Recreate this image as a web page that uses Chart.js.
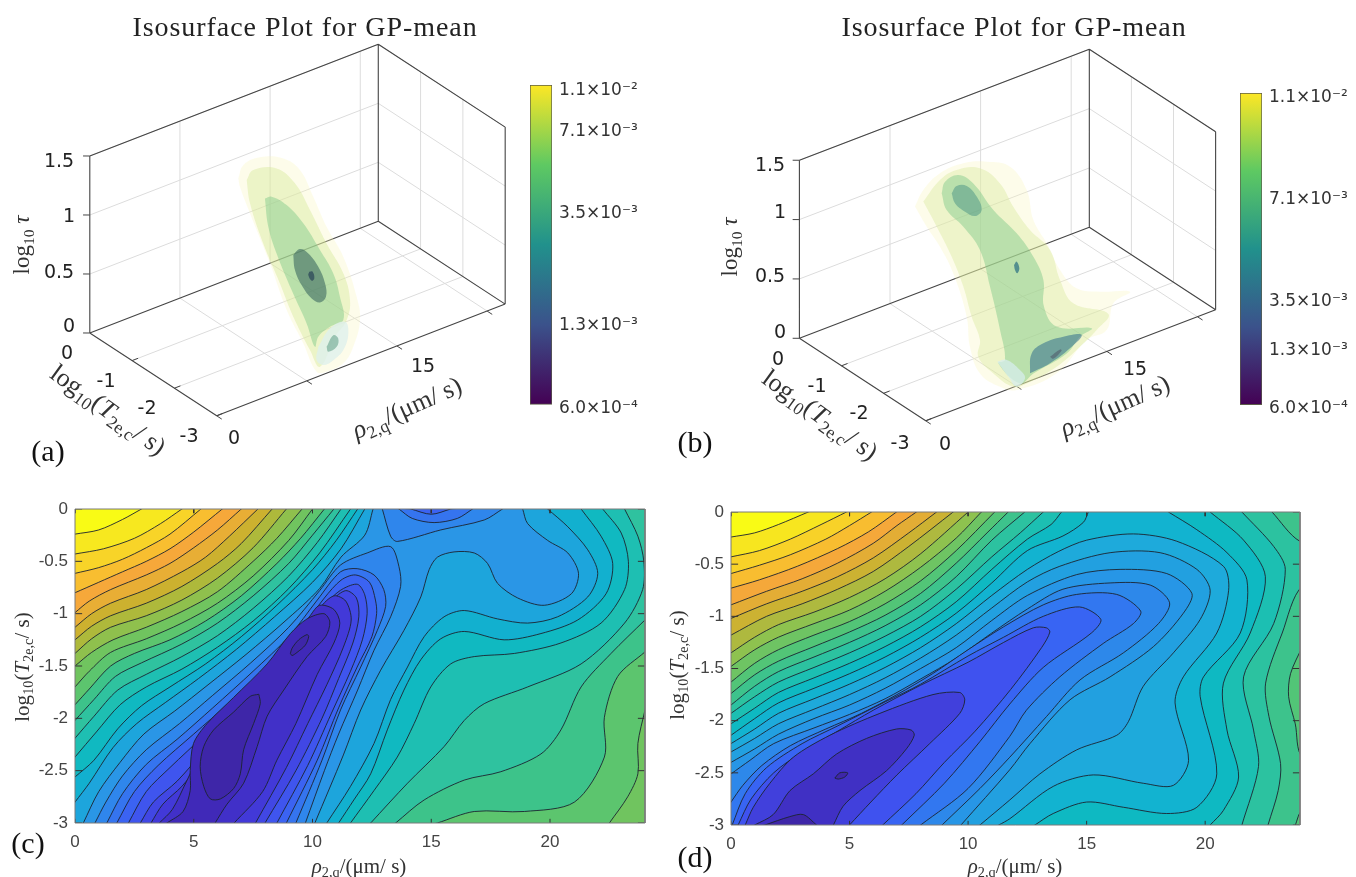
<!DOCTYPE html>
<html>
<head>
<meta charset="utf-8">
<title>GP-mean isosurfaces and contours</title>
<script src="https://cdn.jsdelivr.net/npm/chart.js@4"></script>
<style>
html, body { margin: 0; background: #fff; width: 1356px; height: 877px; overflow: hidden; }
canvas { position: absolute; }
.t { position: absolute; white-space: nowrap; transform: translate(-50%, -50%); color: #222; }
.t sub { font-size: 68%; vertical-align: -0.3em; line-height: 0; }
.title { font: 28px "Liberation Serif"; letter-spacing: .95px; color: #222; }
.tick3 { font: 19px "DejaVu Sans"; color: #222; }
.mark { font: 30px "Liberation Serif"; color: #111; }
.math { font: 26px "Liberation Serif"; color: #333; }
.mathTau { font: 23px "Liberation Serif"; color: #333; }
.math2 { font: 21px "Liberation Serif"; color: #333; }
</style>
</head>
<body>
<script>
// ---- panel (c) contour lines: [rho, log10 T]
const c25 = [[0,-.24],[1,-.2],[2,-.1],[2.8,0]];
const c24 = [[0,-.43],[1.2,-.38],[2.5,-.28],[3.6,-.14],[4.5,0]];
const c23 = [[0,-.615],[1,-.56],[2,-.48],[3,-.37],[4,-.24],[5.3,0]];
const c22 = [[0,-.8],[1,-.7],[2,-.6],[3,-.5],[4,-.38],[5,-.22],[6.2,0]];
const c21 = [[0,-.99],[.6,-.88],[1.5,-.77],[3,-.63],[4,-.52],[5,-.37],[6,-.2],[7,0]];
const c20 = [[0,-1.13],[.7,-1],[1.5,-.9],[3,-.77],[4.5,-.6],[5.5,-.46],[6.5,-.26],[7.7,0]];
const c19 = [[0,-1.25],[.7,-1.12],[1.5,-1.02],[3,-.9],[4.5,-.74],[6,-.52],[7,-.33],[8.3,0]];
const c18 = [[0,-1.38],[.7,-1.24],[1.5,-1.13],[3,-1.02],[4.5,-.87],[6,-.66],[7.5,-.37],[8.9,0]];
const c17 = [[0,-1.5],[.7,-1.37],[1.6,-1.25],[3,-1.13],[4.5,-.98],[6,-.79],[7.5,-.5],[8.5,-.28],[9.56,0]];
const cH = [[0,-1.7],[.6,-1.55],[1.5,-1.37],[3,-1.24],[4.5,-1.09],[6,-.9],[7.5,-.64],[9,-.3],[10,0]];
const cG = [[0,-1.87],[.6,-1.72],[1.5,-1.5],[2.5,-1.38],[4,-1.25],[5.5,-1.07],[7,-.83],[8.5,-.52],[9.5,-.28],[10.5,0]];
const cF = [[0,-2.02],[.8,-1.82],[1.7,-1.6],[2.8,-1.47],[4.5,-1.29],[6,-1.09],[7.5,-.83],[9,-.52],[10,-.25],[10.9,0]];
const cE = [[0,-2.19],[.8,-1.98],[1.8,-1.73],[3,-1.58],[4.5,-1.41],[6,-1.21],[7.5,-.95],[9,-.64],[10.2,-.32],[11.2,0]];
const cD = [[0,-2.37],[.9,-2.13],[1.9,-1.87],[3,-1.7],[4.5,-1.53],[6,-1.32],[7.5,-1.07],[9,-.76],[10.3,-.42],[11.6,0]];
const cC = [[0,-2.56],[.8,-2.4],[1.8,-2.1],[2.8,-1.88],[4,-1.7],[5.5,-1.48],[7,-1.22],[8.5,-.92],[10,-.58],[11,-.3],[11.9,0]];
const cB = [[0,-2.8],[.6,-2.62],[1.6,-2.28],[2.6,-2.05],[3.8,-1.85],[5.2,-1.62],[6.8,-1.34],[8.4,-1.03],[10,-.7],[11.2,-.38],[12.2,0]];
const cA = [[.35,-3],[1,-2.7],[1.9,-2.42],[2.9,-2.15],[4.2,-1.93],[5.6,-1.68],[7.2,-1.39],[8.8,-1.08],[10.3,-.76],[11.2,-.46],[12.2,-.25],[12.55,0]];
const cHr = [[24,-1.92],[23.7,-2.24],[23.7,-2.53],[23.27,-2.75],[22.5,-3]];
const cGr = [[24,-1.365],[22.85,-1.6],[22.29,-1.99],[22.29,-2.37],[21.03,-2.8],[18.92,-2.89],[16.81,-2.89],[15.26,-3]];
const cFr = [[24,-1.06],[22.57,-1.38],[21.31,-1.7],[20.46,-2.11],[19.62,-2.34],[17.93,-2.51],[16.39,-2.59],[14.7,-2.78],[13.5,-3]];
const cEr = [[23.14,0],[23.7,-.26],[23.95,-.5],[23.9,-.77],[23.14,-1.09],[21.31,-1.48],[19.06,-1.7],[17.23,-1.86],[16.39,-2.02],[15.54,-2.27],[14,-2.62],[12.45,-3]];
const cDr = [[22.22,0],[23,-.23],[23.3,-.5],[23.14,-.77],[22.15,-1.09],[20.46,-1.28],[18.5,-1.38],[16.81,-1.41],[15.82,-1.48],[14.98,-1.7],[14.28,-2.05],[13.57,-2.37],[12.59,-2.69],[11.6,-3]];
const cCr = [[21.31,0],[22.15,-.26],[22.64,-.52],[22.36,-.81],[21.17,-1.06],[19.62,-1.19],[18.07,-1.25],[16.39,-1.17],[15.4,-1.24],[14.56,-1.44],[13.85,-1.73],[13.15,-2.11],[12.45,-2.53],[11.74,-2.78],[11.1,-3]];
const cBr = [[19.9,0],[20.75,-.17],[21.59,-.39],[22.01,-.615],[21.59,-.84],[20.32,-1.03],[19.06,-1.09],[17.79,-1.05],[16.39,-.97],[15.54,-1.03],[14.7,-1.22],[14,-1.51],[13.29,-1.82],[12.59,-2.24],[11.6,-2.65],[10.6,-3]];
const cAr = [[18.85,0],[19.06,-.14],[19.9,-.3],[20.75,-.42],[21.2,-.615],[20.9,-.81],[19.76,-.92],[18.64,-.85],[17.79,-.71],[17.37,-.52],[16.81,-.42],[15.96,-.41],[15.26,-.46],[14.91,-.58],[14.56,-.84],[13.85,-1.16],[12.87,-1.54],[12.03,-1.92],[11.3,-2.35],[10.1,-3]];
const cT8 = [[.84,-3],[1.3,-2.8],[2,-2.55],[3,-2.3],[4.4,-2.05],[5.8,-1.78],[7.4,-1.47],[9,-1.13],[10.3,-.78],[11.18,-.535],[12.3,-.42],[13.29,-.36],[13.64,-.55],[13.71,-.74],[13.29,-1.03],[12.59,-1.35],[11.9,-1.73],[11.1,-2.15],[10.5,-2.5],[9.7,-3]];
const cT7 = [[1.34,-3],[2,-2.72],[3,-2.44],[4.3,-2.2],[5.8,-1.9],[7.5,-1.55],[9,-1.22],[10.2,-.87],[11.18,-.6],[11.88,-.57],[12.59,-.63],[13,-.77],[13.08,-.93],[12.73,-1.16],[12.03,-1.51],[11.18,-1.92],[10.4,-2.4],[9.3,-3]];
const cT6 = [[1.76,-3],[2.5,-2.7],[3.5,-2.45],[5,-2.15],[6.5,-1.85],[8,-1.52],[9.5,-1.15],[10.5,-.85],[11.2,-.68],[11.8,-.63],[12.4,-.7],[12.65,-.87],[12.7,-1],[12.5,-1.22],[11.9,-1.5],[11.1,-1.9],[10.2,-2.4],[8.9,-3]];
const cT5 = [[2.25,-3],[3,-2.7],[4,-2.47],[5.5,-2.15],[7,-1.82],[8.5,-1.47],[9.9,-1.1],[10.8,-.85],[11.3,-.76],[11.9,-.72],[12.2,-.82],[12.3,-1],[12.1,-1.25],[11.6,-1.55],[10.8,-1.95],[9.8,-2.45],[8.5,-3]];
const cT4 = [[2.75,-3],[3.3,-2.8],[4.3,-2.6],[5.6,-2.27],[7.2,-1.9],[8.7,-1.53],[10,-1.15],[10.8,-.88],[11.4,-.78],[11.85,-.85],[11.95,-1.03],[11.7,-1.28],[11.1,-1.62],[10.4,-2],[9.3,-2.5],[8,-3]];
const cT3 = [[3.2,-3],[3.7,-2.82],[4.5,-2.65],[5.6,-2.35],[7,-2.02],[8.4,-1.63],[9.5,-1.27],[10.3,-.95],[10.9,-.83],[11.4,-.88],[11.63,-1.06],[11.3,-1.32],[10.6,-1.68],[9.8,-2.05],[8.9,-2.47],[7.6,-3]];
const cT2 = [[3.55,-3],[4.1,-2.87],[4.7,-2.6],[5.3,-2.33],[6.5,-2],[7.9,-1.63],[9.1,-1.27],[9.9,-1.02],[10.3,-.92],[10.9,-.96],[11.15,-1.09],[10.9,-1.28],[10.2,-1.58],[9.3,-2.05],[8.5,-2.4],[7.9,-2.7],[6.7,-3]];
const cT1 = [[3.87,-3],[4.55,-2.89],[4.85,-2.69],[4.85,-2.5],[4.99,-2.24],[5.56,-2.05],[6.68,-1.8],[8.09,-1.48],[9.07,-1.19],[9.77,-1.05],[10.48,-1],[10.73,-1.08],[10.55,-1.22],[9.77,-1.41],[8.79,-1.73],[8.09,-1.98],[7.67,-2.27],[7.1,-2.62],[6.4,-2.82],[5.9,-3]];
const cCap8 = [[12.94,0],[13.29,-.26],[13.57,-.31],[15.4,-.2],[17.23,-.105],[18,0]];
const cCap7 = [[13.64,0],[14.2,-.09],[15.12,-.13],[16.1,-.09],[16.74,0]];
const cCap6 = [[14.14,0],[15,-.05],[15.82,0]];
const cBlob = [[7.74,-1.77],[7.8,-1.86],[7.52,-2.05],[7.1,-2.3],[6.96,-2.53],[6.68,-2.67],[6.12,-2.77],[5.7,-2.77],[5.42,-2.65],[5.27,-2.46],[5.42,-2.27],[5.84,-2.11],[6.68,-1.94],[7.38,-1.79],[7.74,-1.77]];
const cDot = [[9.07,-1.38],[9.14,-1.33],[9.42,-1.25],[9.77,-1.2],[9.84,-1.22],[9.7,-1.3],[9.35,-1.37],[9.14,-1.4],[9.07,-1.38]];

// ---- panel (d) contour lines
const d24 = [[0,-.24],[1,-.2],[2,-.12],[3.26,0]];
const d23 = [[0,-.43],[1.2,-.37],[2.5,-.26],[3.8,-.12],[4.87,0]];
const d22 = [[0,-.59],[1.2,-.51],[2.5,-.41],[4,-.26],[5,-.13],[5.93,0]];
const d21 = [[0,-.73],[1.2,-.65],[2.8,-.52],[4.5,-.35],[5.8,-.19],[6.98,0]];
const d20 = [[0,-.89],[1.5,-.76],[3,-.64],[4.5,-.49],[6,-.3],[7,-.13],[7.82,0]];
const d19 = [[0,-1.02],[1.5,-.88],[3,-.76],[4.5,-.62],[6,-.44],[7.5,-.2],[8.67,0]];
const d18 = [[0,-1.18],[1.5,-1],[3,-.88],[4.5,-.74],[6,-.57],[7.5,-.33],[9.37,0]];
const d17 = [[0,-1.35],[1,-1.2],[2,-1.08],[3.5,-.96],[5,-.82],[6.5,-.64],[8,-.4],[10,0]];
const d16 = [[0,-1.48],[1,-1.32],[2,-1.2],[3.5,-1.07],[5,-.94],[6.5,-.76],[8,-.53],[9.5,-.25],[10.56,0]];
const d15 = [[0,-1.63],[1,-1.45],[2,-1.32],[3.5,-1.18],[5,-1.05],[6.5,-.88],[8,-.66],[9.5,-.37],[11.12,0]];
const d14 = [[0,-1.74],[1,-1.56],[2,-1.43],[3.5,-1.29],[5,-1.15],[6.5,-.99],[8,-.78],[9.5,-.49],[10.8,-.2],[11.69,0]];
const d13 = [[0,-1.85],[1,-1.67],[2,-1.53],[3.5,-1.39],[5,-1.25],[6.5,-1.09],[8,-.89],[9.5,-.62],[11,-.27],[12.39,0]];
const d12 = [[0,-1.93],[1,-1.77],[2,-1.63],[3.5,-1.49],[5,-1.35],[6.5,-1.19],[8,-1],[9.5,-.74],[11,-.43],[12.2,-.2],[13.17,0]];
const d11 = [[0,-2.03],[1,-1.88],[2,-1.73],[3.5,-1.59],[5,-1.45],[6.5,-1.29],[8,-1.1],[9.5,-.86],[11,-.55],[12.5,-.26],[13.5,-.12],[13.94,0]];
const d10 = [[0,-2.14],[1,-1.98],[2,-1.83],[3.5,-1.69],[5,-1.55],[6.5,-1.39],[8,-1.2],[9.5,-.97],[11,-.68],[12.5,-.37],[14,-.23],[14.86,-.1],[15.07,0]];
const d14r = [[24.1,-1.29],[23.6,-1.55],[23.52,-1.77],[23.8,-2.03],[24.1,-2.35],[26,-2.5],[26,-2.75],[24.1,-2.86],[23.8,-3]];
const d13r = [[22.82,0],[23.99,-.28],[26,-.4],[26,-.6],[24.1,-.71],[23.25,-1.16],[22.55,-1.64],[22.69,-1.96],[23.18,-2.41],[23.08,-2.67],[22.65,-3]];
const d12r = [[21.55,0],[22.89,-.33],[23.38,-.55],[22.89,-1.07],[21.62,-1.58],[22.04,-2.09],[22.25,-2.44],[21.55,-3]];
const d11r = [[20.21,0],[21.62,-.27],[22.54,-.62],[21.9,-1.16],[20.77,-1.64],[20.92,-2.09],[21.41,-2.54],[20.77,-2.86],[20.21,-3]];
const d10r = [[18.45,0],[19.65,-.17],[20.92,-.39],[21.76,-.65],[21.48,-1.16],[19.93,-1.58],[19.79,-1.77],[20.49,-2.51],[19.65,-2.83],[18.38,-2.89],[16.55,-2.83],[15,-2.78],[13.59,-2.89],[12.82,-3]];
const d9 = [[0,-2.22],[1,-2.08],[2,-1.93],[3.5,-1.79],[5,-1.65],[6.5,-1.49],[8,-1.3],[9.5,-1.07],[11,-.8],[12.5,-.55],[13.8,-.38],[15,-.27],[16.97,-.21],[18.8,-.28],[20.77,-.52],[20.99,-.75],[20.49,-1.16],[19.08,-1.58],[18.73,-1.83],[19.3,-2.38],[18.66,-2.62],[17.39,-2.6],[15.28,-2.52],[13.59,-2.63],[11.76,-2.94],[11.3,-3]];
const d8 = [[0,-2.3],[1,-2.17],[2,-2.03],[3.5,-1.89],[5,-1.75],[6.5,-1.59],[8,-1.4],[9.5,-1.18],[11,-.92],[12.5,-.67],[13.87,-.52],[15.99,-.39],[18.1,-.39],[19.65,-.55],[20.21,-.75],[19.79,-1.03],[18.66,-1.35],[17.39,-1.67],[16.76,-2.01],[16.27,-2.14],[14.58,-2.28],[13.03,-2.51],[11.76,-2.76],[10.5,-3]];
const d7 = [[0,-2.4],[1,-2.27],[2,-2.13],[3.5,-1.98],[5,-1.85],[6.5,-1.69],[8,-1.5],[9.5,-1.3],[11,-1.04],[12.5,-.8],[14.58,-.6],[16.41,-.55],[18.38,-.59],[19.44,-.78],[19.08,-.97],[17.82,-1.29],[15.99,-1.58],[14.3,-1.8],[12.61,-2.22],[11.76,-2.47],[9.7,-3]];
const d6 = [[0,-2.51],[.8,-2.38],[1.8,-2.22],[3.5,-2.07],[5,-1.94],[6.5,-1.79],[8,-1.6],[9.5,-1.4],[11,-1.16],[12.5,-.93],[14,-.74],[15.99,-.68],[17.68,-.7],[18.5,-.87],[18.03,-1.07],[16.55,-1.35],[14.72,-1.61],[13.31,-1.96],[11.76,-2.35],[10.5,-2.65],[8.9,-3]];
const d5 = [[0,-2.78],[.5,-2.62],[1.3,-2.43],[2.5,-2.24],[4,-2.08],[5.5,-1.93],[7,-1.75],[8.5,-1.55],[10,-1.32],[11.5,-1.1],[13.17,-.89],[14.58,-.79],[16.27,-.79],[17.28,-.95],[16.97,-1.07],[15.7,-1.26],[13.87,-1.58],[12.46,-1.9],[11.76,-2.15],[10,-2.65],[8,-3]];
const d4 = [[.05,-3],[.6,-2.7],[1.5,-2.45],[3,-2.22],[4.5,-2.05],[6.5,-1.82],[8,-1.65],[10,-1.38],[11.5,-1.2],[13.17,-1],[14.7,-.91],[15.6,-1.03],[15.2,-1.16],[13.17,-1.49],[11.76,-1.84],[10.5,-2.2],[9,-2.6],[7.2,-3]];
const d3 = [[.3,-3],[.85,-2.75],[1.8,-2.5],[3,-2.3],[4.5,-2.1],[6,-1.9],[8,-1.66],[10,-1.44],[11.5,-1.25],[12.75,-1.11],[13.3,-1.11],[13.45,-1.15],[13.1,-1.3],[11.8,-1.7],[10.3,-2.1],[9,-2.4],[7.8,-2.7],[6.4,-3]];
const d2 = [[.6,-3],[.94,-2.83],[1.64,-2.6],[2.63,-2.35],[4.17,-2.14],[6.28,-1.93],[8.52,-1.75],[9.65,-1.73],[9.86,-1.8],[9.65,-1.93],[8.38,-2.22],[7,-2.52],[5.9,-2.78],[5,-3]];
const d1 = [[1,-3],[1.78,-2.9],[2.49,-2.67],[3.47,-2.51],[4.45,-2.32],[5.72,-2.17],[6.98,-2.08],[7.6,-2.09],[7.73,-2.14],[7.4,-2.27],[6.56,-2.48],[5.44,-2.67],[4.73,-2.82],[4.32,-3]];
const dLow = [[1.43,-3],[2.48,-2.92],[3.05,-2.9],[3.61,-3]];
const dDot = [[4.38,-2.55],[4.59,-2.5],[4.92,-2.5],[4.8,-2.54],[4.52,-2.56],[4.38,-2.55]];

// ---- panel (a) isosurface outlines on the slice log10 T = -1.5: [rho, log10 tau]
const aSurf1 = [[7.08,1.382],[7.49,1.478],[8.88,1.489],[10.82,1.403],[12.2,1.251],[13.31,.981],[14.42,.682],[15.81,.374],[16.92,-.009],[17.2,-.218],[16.64,-.422],[15.81,-.53],[14.42,-.547],[13.59,-.514],[12.48,-.229],[11.1,.107],[9.71,.558],[8.05,1.047],[7.21,1.305],[7.08,1.382]];
const aSurf2 = [[7.77,1.341],[8.32,1.404],[10.26,1.341],[11.79,1.154],[13.04,.879],[14.42,.541],[15.81,.233],[16.37,-.015],[16.09,-.174],[15.12,-.277],[13.87,-.482],[13.04,-.308],[11.65,.03],[10.54,.355],[9.15,.749],[8.05,1.132],[7.77,1.341]];
const aSurf3 = [[9.29,1.124],[9.85,1.118],[11.1,.997],[12.48,.788],[13.87,.507],[14.98,.265],[15.53,.046],[15.81,-.163],[14.7,-.176],[13.73,-.222],[13.45,-.297],[12.76,-.071],[11.51,.261],[10.26,.62],[9.57,.874],[9.29,1.124]];
const aSurf4 = [[11.65,.552],[12.2,.581],[12.9,.516],[13.73,.371],[14.29,.208],[14.37,.091],[13.87,.063],[13.18,.124],[12.34,.27],[11.79,.419],[11.65,.552]];
const aSurf5 = [[12.98,.358],[13.26,.347],[13.4,.285],[13.18,.274],[12.9,.333],[12.98,.358]];
const aSurf6 = [[13.73,-.307],[14.7,-.19],[15.95,-.183],[16.23,-.293],[15.81,-.417],[14.98,-.47],[14.15,-.479],[13.59,-.415],[13.73,-.307]];
const aSurf7 = [[14.42,-.335],[14.98,-.258],[15.39,-.302],[15.26,-.368],[14.56,-.382],[14.42,-.335]];

// ---- panel (b) isosurface outlines, same slice
const bSurf1 = [[4.34,1.288],[5.03,1.401],[6.41,1.488],[8.34,1.497],[10.27,1.435],[12.21,1.318],[13.59,1.067],[14.14,.793],[15.24,.554],[16.35,.286],[17.72,.078],[19.66,-.026],[22.14,-.123],[20.76,-.167],[20.21,-.371],[18.55,-.39],[16.07,-.574],[12.76,-.585],[11.38,-.504],[9.72,-.327],[8.89,-.07],[8.62,.194],[7.51,.602],[6.41,.87],[5.31,1.081],[4.34,1.288]];
const bSurf2 = [[5.03,1.303],[6.41,1.431],[7.79,1.462],[9.72,1.401],[11.38,1.209],[12.48,.97],[13.86,.72],[15.52,.487],[16.35,.202],[17.45,-.038],[20.35,-.241],[19.38,-.338],[18,-.425],[16.07,-.518],[13.59,-.562],[12.48,-.547],[10.83,-.37],[9.58,-.181],[9.72,-.046],[9.03,.178],[8.34,.458],[7.38,.747],[6.14,1.049],[5.03,1.303]];
const bSurf3 = [[6.55,1.314],[6.83,1.401],[7.93,1.415],[9.17,1.295],[10.83,1.007],[12.76,.735],[14.14,.484],[14.97,.256],[15.02,.029],[16.07,-.18],[18.97,-.308],[18,-.341],[16.9,-.438],[14.14,-.499],[13.03,-.54],[11.24,-.301],[11.79,-.295],[11.38,-.027],[10.55,.372],[9.72,.713],[8.34,.963],[6.96,1.157],[6.55,1.314]];
const bSurf4 = [[7.38,1.281],[7.79,1.327],[8.62,1.295],[9.45,1.173],[9.86,1.045],[9.31,1.015],[8.48,1.084],[7.65,1.187],[7.38,1.281]];
const bSurf5 = [[12.54,.476],[12.76,.496],[12.98,.431],[12.81,.396],[12.62,.431],[12.54,.476]];
const bSurf6 = [[13.86,-.488],[14,-.325],[14.97,-.278],[16.62,-.287],[18.14,-.332],[17.17,-.406],[15.52,-.468],[13.86,-.488]];
const bSurf7 = [[15.52,-.412],[16.35,-.383],[16.48,-.399],[15.79,-.44],[15.52,-.412]];
const bSurf8 = [[11.16,-.284],[11.93,-.3],[13.03,-.428],[13.45,-.514],[12.76,-.557],[12.07,-.446],[11.16,-.284]];

// ---- ticks
const rhoTicks2d = [0, 5, 10, 15, 20];
const logTTicks2d = [0, -.5, -1, -1.5, -2, -2.5, -3];
const rhoTicks3d = [0, 7.5, 15, 22.5];
const logTTicks3d = [0, -1, -2, -3];
const tauTicks3d = [0, .5, 1, 1.5];
const barLabels = ['6.0×10⁻⁴', '1.3×10⁻³', '3.5×10⁻³', '7.1×10⁻³', '1.1×10⁻²'];
const barPosA = [-.0125, .248, .599, .853, .984];
const barPosB = [-.013, .173, .33, .657, .986];

// ---- band colours, lowest level first
const cBands = ['#3e26a8','#4029b8','#4130c8','#4239d8','#4147e4','#3f55ee','#3b63f2','#3574ef','#2f86ec','#2a96e6','#1da5dc','#12b0cf','#10b9c1','#1ebfb2','#2fc29f','#3dc38a','#5cc56e','#70c45f','#8fc04d','#aeb93b','#ccb12f','#e8ae35','#f6a83a','#f8be30','#f8d428','#f7e81f','#f9fb15'];
const dBands = ['#3e26a8','#4030c4','#4140dc','#3f52ef','#3864f3','#3277f0','#2d88ea','#2796e6','#22a0e0','#1eaadb','#12b3d0','#0eb9c2','#1cbfb2','#2cc2a0','#3dc38c','#52c577','#6ec463','#8ec24f','#aeb93f','#ccb232','#e3ad35','#f5a83a','#f8bd30','#f8d228','#f7e61f','#f9fb15'];
const aFills = ['rgba(250,245,185,.3)','rgba(212,232,150,.42)','rgba(125,200,135,.45)','rgba(50,95,90,.55)','rgba(40,65,85,.7)','rgba(222,240,236,.8)','rgba(130,180,160,.75)'];
const bFills = ['rgba(250,245,185,.3)','rgba(212,232,150,.38)','rgba(125,200,135,.45)','rgba(50,130,125,.42)','rgba(40,110,130,.7)','rgba(50,110,140,.55)','rgba(90,110,120,.8)','rgba(215,238,236,.75)'];

const pastEnd = (from, to) => [to[0] + (to[0] - from[0]) * .5, to[1] + (to[1] - from[1]) * .5];

// closes a contour round the outside of the frame so it can be filled
function region(line, right) {
  const a = line[0], z = line[line.length - 1];
  const pts = [a[1] === -3 ? [a[0], -6] : [-4, a[1]], pastEnd(line[1], a), ...line];
  const out = pastEnd(line[line.length - 2], z);
  pts.push(out);
  if (z[1] === 0) {
    pts.push([out[0], 1]);
    if (right) {
      const r = right[0], e = right[right.length - 1];
      if (r[1] === 0) pts.push([r[0], 1]); else pts.push([30, 1], [30, r[1]]);
      pts.push(pastEnd(right[1], r), ...right, pastEnd(right[right.length - 2], e), [e[0], -6]);
    } else {
      pts.push([30, 1], [30, -6]);
    }
  } else {
    pts.push([out[0], -6]);
  }
  if (a[1] !== -3) pts.push([-4, -6]);
  return pts;
}

function cap(line) {
  const a = line[0], z = line[line.length - 1];
  return [[a[0], 1], pastEnd(line[1], a), ...line, pastEnd(line[line.length - 2], z), [z[0], 1]];
}

const everything = [[-5, 6], [30, 6], [30, -9], [-5, -9]];

const cShapes = [
  [26, everything], [25, region(c25)], [24, region(c24)], [23, region(c23)], [22, region(c22)],
  [21, region(c21)], [20, region(c20)], [19, region(c19)], [18, region(c18)], [17, region(c17)],
  [16, region(cH, cHr)], [15, region(cG, cGr)], [14, region(cF, cFr)], [13, region(cE, cEr)],
  [12, region(cD, cDr)], [11, region(cC, cCr)], [10, region(cB, cBr)], [9, region(cA, cAr)],
  [8, region(cT8)], [8, cap(cCap8)], [7, region(cT7)], [7, cap(cCap7)], [6, region(cT6)], [6, cap(cCap6)],
  [5, region(cT5)], [4, region(cT4)], [3, region(cT3)], [2, region(cT2)], [1, region(cT1)],
  [0, cBlob], [0, cDot]
];

const dShapes = [
  [25, everything], [24, region(d24)], [23, region(d23)], [22, region(d22)], [21, region(d21)],
  [20, region(d20)], [19, region(d19)], [18, region(d18)], [17, region(d17)], [16, region(d16)],
  [15, region(d15)], [14, region(d14, d14r)], [13, region(d13, d13r)], [12, region(d12, d12r)],
  [11, region(d11, d11r)], [10, region(d10, d10r)], [9, region(d9)], [8, region(d8)], [7, region(d7)],
  [6, region(d6)], [5, region(d5)], [4, region(d4)], [3, region(d3)], [2, region(d2)], [1, region(d1)],
  [0, region(dLow)], [0, dDot]
];

function place(w, h, left, top) {
  const cv = document.createElement('canvas');
  cv.width = w; cv.height = h;
  cv.style.left = left + 'px'; cv.style.top = top + 'px';
  cv.style.width = w + 'px'; cv.style.height = h + 'px';
  document.body.appendChild(cv);
  return cv.getContext('2d');
}

const xy = p => ({ x: p[0], y: p[1] });
const gap = { x: NaN, y: NaN };

function contourChart(box, shapes, bands) {
  const datasets = shapes.map(([band, pts]) => ({
    data: pts.map(xy),
    showLine: true, fill: 'shape', tension: .3, pointRadius: 0,
    backgroundColor: bands[band], borderColor: '#1c2430', borderWidth: .9
  }));
  const marks = [];
  rhoTicks2d.forEach(v => marks.push({ x: v, y: -3 }, { x: v, y: -2.96 }, gap, { x: v, y: 0 }, { x: v, y: -.04 }, gap));
  logTTicks2d.forEach(v => marks.push({ x: 0, y: v }, { x: .3, y: v }, gap, { x: 24, y: v }, { x: 23.7, y: v }, gap));
  datasets.push({ data: marks, showLine: true, tension: 0, pointRadius: 0, borderColor: '#333', borderWidth: 1 });
  datasets.push({
    data: [[0, 0], [24, 0], [24, -3], [0, -3], [0, 0]].map(xy), clip: false,
    showLine: true, tension: 0, pointRadius: 0, borderColor: '#7a7a7a', borderWidth: 1
  });
  datasets.forEach((d, i) => { d.order = -i; });
  const tickFont = { family: 'Liberation Sans', size: 17 };
  new Chart(place(box.w + 64, box.h + 54, box.x - 50, box.y - 20), {
    type: 'scatter',
    data: { datasets },
    options: {
      responsive: false, animation: false,
      layout: { padding: { top: 20, right: 14, left: 0, bottom: 0 } },
      plugins: { legend: { display: false }, tooltip: { enabled: false } },
      elements: { line: { capBezierPoints: false } },
      scales: {
        x: {
          type: 'linear', min: 0, max: 24,
          grid: { display: false, drawTicks: false }, border: { display: false },
          afterBuildTicks: s => { s.ticks = rhoTicks2d.map(value => ({ value })); },
          afterFit: s => { s.height = 34; },
          ticks: { color: '#444', font: tickFont, padding: 9, maxRotation: 0, autoSkip: false }
        },
        y: {
          type: 'linear', min: -3, max: 0,
          grid: { display: false, drawTicks: false }, border: { display: false },
          afterBuildTicks: s => { s.ticks = logTTicks2d.map(value => ({ value })); },
          afterFit: s => { s.width = 50; },
          ticks: { color: '#444', font: tickFont, padding: 7, autoSkip: false, callback: v => String(v) }
        }
      }
    }
  });
}

function boxChart(box, view, surfaces, fills) {
  const proj = (rho, t, tau) => ({
    x: view.ox + rho * view.rx + t * view.tx,
    y: view.oy + rho * view.ry + t * view.ty + tau * view.zy
  });
  const grid = [], edges = [], marks = [];
  const seg = (list, a, b) => list.push(proj(...a), proj(...b), gap);
  rhoTicks3d.slice(1).forEach(r => {
    seg(grid, [r, 0, 0], [r, -3, 0]);
    seg(grid, [r, 0, 0], [r, 0, 1.5]);
    seg(marks, [r, -3, 0], [r, -3.12, 0]);
  });
  logTTicks3d.slice(1, 3).forEach(t => {
    seg(grid, [0, t, 0], [24, t, 0]);
    seg(grid, [24, t, 0], [24, t, 1.5]);
    seg(marks, [0, t, 0], [.5, t, 0]);
  });
  tauTicks3d.forEach(z => {
    if (z > 0) { seg(grid, [0, 0, z], [24, 0, z]); seg(grid, [24, 0, z], [24, -3, z]); }
    seg(marks, [0, 0, z], [-.35, .06, z]);
  });
  seg(marks, [0, -3, 0], [.5, -3, 0]);
  seg(marks, [0, -3, 0], [0, -3.12, 0]);
  seg(edges, [0, 0, 0], [0, 0, 1.5]);
  seg(edges, [0, 0, 1.5], [24, 0, 1.5]);
  seg(edges, [24, 0, 1.5], [24, -3, 1.5]);
  seg(edges, [24, 0, 0], [24, 0, 1.5]);
  seg(edges, [24, -3, 0], [24, -3, 1.5]);
  seg(edges, [0, 0, 0], [24, 0, 0]);
  seg(edges, [24, 0, 0], [24, -3, 0]);
  seg(edges, [0, -3, 0], [24, -3, 0]);
  seg(edges, [0, 0, 0], [0, -3, 0]);
  const line = (data, color, width) => ({ data, showLine: true, tension: 0, pointRadius: 0, borderColor: color, borderWidth: width });
  const datasets = [line(grid, '#dcdcdc', 1), line(edges, '#444', 1.1), line(marks, '#444', 1)];
  surfaces.forEach((pts, i) => datasets.push({
    data: pts.map(p => proj(p[0], -1.5, p[1])),
    showLine: true, fill: 'shape', tension: .4, pointRadius: 0, borderWidth: 0, backgroundColor: fills[i]
  }));
  datasets.forEach((d, i) => { d.order = -i; });
  new Chart(place(box.w, box.h, box.x, box.y), {
    type: 'scatter',
    data: { datasets },
    options: {
      responsive: false, animation: false,
      plugins: { legend: { display: false }, tooltip: { enabled: false } },
      elements: { line: { capBezierPoints: false } },
      scales: {
        x: { type: 'linear', min: 0, max: box.w, display: false },
        y: { type: 'linear', min: 0, max: box.h, reverse: true, display: false }
      }
    }
  });
}

function colorBar(box, positions) {
  new Chart(place(box.w, box.h, box.x, box.y), {
    type: 'bar',
    data: {
      labels: [''],
      datasets: [{
        data: [[0, 1]], barPercentage: 1, categoryPercentage: 1,
        borderWidth: 1, borderColor: '#5c5c48', borderSkipped: false,
        backgroundColor: c => {
          const area = c.chart.chartArea;
          if (!area) return '#21918c';
          const s = c.chart.scales.y;
          const g = c.chart.ctx.createLinearGradient(0, s.getPixelForValue(0), 0, s.getPixelForValue(1));
          ['#440154', '#3b528b', '#21918c', '#5ec962', '#fde725'].forEach((col, i) => g.addColorStop(i / 4, col));
          return g;
        }
      }]
    },
    options: {
      responsive: false, animation: false,
      layout: { padding: { top: 20, bottom: 20, left: 0 } },
      plugins: { legend: { display: false }, tooltip: { enabled: false } },
      scales: {
        x: { display: false },
        y: {
          position: 'right', min: -.03, max: 1,
          grid: { display: false, drawTicks: false }, border: { display: false },
          afterBuildTicks: s => { s.ticks = positions.map(value => ({ value })); },
          afterFit: s => { s.width = box.w - 22; },
          ticks: {
            color: '#333', font: { family: 'DejaVu Sans', size: 17 }, padding: 7, autoSkip: false,
            callback: v => barLabels[positions.indexOf(v)]
          }
        }
      }
    }
  });
}

boxChart({ x: 0, y: 0, w: 525, h: 470 },
  { ox: 89.8, oy: 333, rx: 12.02, ry: -4.654, tx: -42.3, ty: -27.6, zy: -118 },
  [aSurf1, aSurf2, aSurf3, aSurf4, aSurf5, aSurf6, aSurf7], aFills);
boxChart({ x: 680, y: 0, w: 550, h: 470 },
  { ox: 119.4, oy: 338.3, rx: 12.08, ry: -4.625, tx: -42.1, ty: -27.5, zy: -118.7 },
  [bSurf1, bSurf2, bSurf3, bSurf4, bSurf5, bSurf6, bSurf7, bSurf8], bFills);
colorBar({ x: 530, y: 65, w: 126, h: 369 }, barPosA);
colorBar({ x: 1240, y: 73, w: 116, h: 361 }, barPosB);
contourChart({ x: 75, y: 509, w: 570, h: 314 }, cShapes, cBands);
contourChart({ x: 731, y: 512, w: 569, h: 313 }, dShapes, dBands);

const logT = 'log<sub>10</sub>(<i>T</i><sub>2e,c</sub>/ s)';
const rhoQ = '<i>ρ</i><sub>2,q</sub>/(μm/ s)';
const logTau = 'log<sub>10</sub> <i>τ</i>';
const texts = [
  ['title', 305, 27, 0, 'Isosurface Plot for GP-mean'],
  ['title', 1014, 27, 0, 'Isosurface Plot for GP-mean'],
  ['tick3', 59, 160, 0, '1.5'], ['tick3', 69, 215, 0, '1'], ['tick3', 59, 271, 0, '0.5'], ['tick3', 69, 325, 0, '0'],
  ['tick3', 67, 352, 0, '0'], ['tick3', 106, 380, 0, '-1'], ['tick3', 147, 407, 0, '-2'], ['tick3', 189, 435, 0, '-3'],
  ['tick3', 234, 437, 0, '0'], ['tick3', 423, 365, 0, '15'],
  ['tick3', 770, 164, 0, '1.5'], ['tick3', 780, 211, 0, '1'], ['tick3', 770, 275, 0, '0.5'], ['tick3', 780, 331, 0, '0'],
  ['tick3', 778, 358, 0, '0'], ['tick3', 817, 385, 0, '-1'], ['tick3', 859, 412, 0, '-2'], ['tick3', 900, 442, 0, '-3'],
  ['tick3', 945, 443, 0, '0'], ['tick3', 1135, 368, 0, '15'],
  ['mathTau', 22, 245, -90, logTau], ['math', 108, 410, 36, logT], ['math', 407, 408, -24, rhoQ],
  ['mathTau', 730, 247, -90, logTau], ['math', 820, 415, 36, logT], ['math', 1115, 406, -24, rhoQ],
  ['mark', 48, 451, 0, '(a)'], ['mark', 695, 442, 0, '(b)'], ['mark', 28, 843, 0, '(c)'], ['mark', 695, 857, 0, '(d)'],
  ['math2', 22, 667, -90, logT], ['math2', 359, 866, 0, rhoQ],
  ['math2', 677, 665, -90, logT], ['math2', 1015, 866, 0, rhoQ]
];
texts.forEach(([cls, x, y, rot, html]) => {
  const el = document.createElement('div');
  el.className = 't ' + cls;
  el.style.left = x + 'px';
  el.style.top = y + 'px';
  if (rot) el.style.transform = 'translate(-50%, -50%) rotate(' + rot + 'deg)';
  el.innerHTML = html;
  document.body.appendChild(el);
});
</script>
</body>
</html>
